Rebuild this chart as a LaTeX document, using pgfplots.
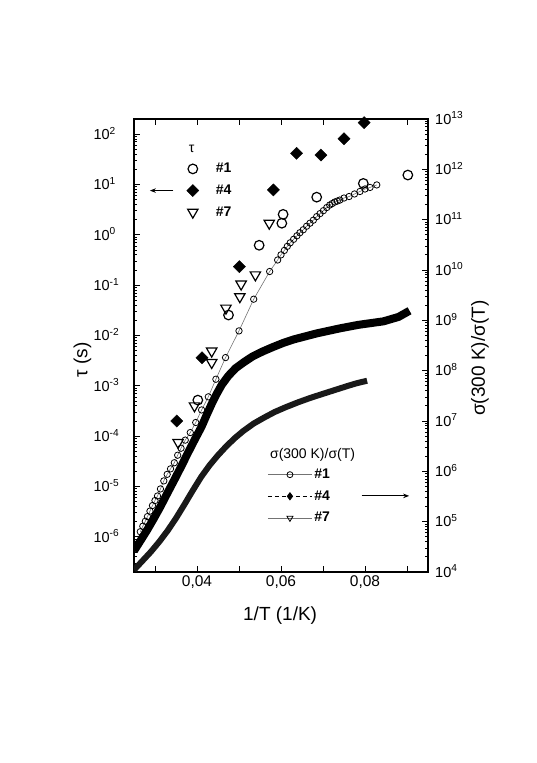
\documentclass[border=0pt]{standalone}
\usepackage{fontspec}
\setmainfont{Liberation Sans}
\usepackage{pgfplots}
\pgfplotsset{compat=1.18}
\usetikzlibrary{arrows.meta}

\newcommand\xtickfont{\fontsize{15.5}{18}\selectfont}
\newcommand\ytickfont{\fontsize{14.5}{17}\selectfont}
\newcommand\labfont{\fontsize{19}{23}\selectfont}
\newcommand\legfont{\fontsize{14}{17}\selectfont}

\pgfkeys{/pgf/number format/assume math mode=true}
\pgfplotsset{
  log number format basis/.code 2 args={#1\textsuperscript{\pgfmathprintnumber{#2}}},
  taumark/.style={only marks,
    legend image code/.code={\path[draw=none] (0pt,0pt) -- (42pt,0pt);
      \draw[##1] plot[only marks] coordinates {(21pt,0pt)};}},
}

\begin{document}
\begin{tikzpicture}
% tau (left axis)
\begin{axis}[
  at={(0,0)}, anchor=south west,
  scale only axis, width=294pt, height=453pt,
  xmin=0.025, xmax=0.095,
  ymode=log, log basis y=10,
  ymin=2e-7, ymax=2e2,
  tick align=inside,
  major tick length=6.5pt, minor tick length=3.5pt,
  axis line style={line width=1.3pt},
  every tick/.append style={black, line width=0.9pt},
  xticklabel style={font=\xtickfont},
  yticklabel style={font=\ytickfont, anchor=base west, xshift=-44pt, yshift=-5.2pt},
  scaled x ticks=false,
  xtick={0.03,0.04,0.05,0.06,0.07,0.08,0.09},
  xticklabels={,{0,04},,{0,06},,{0,08},},
  ytick pos=left,
  xlabel={1/T (1/K)},
  ylabel={τ (s)},
  every axis x label/.style={at={(axis description cs:0.497,-0.0965)},anchor=center,font=\labfont},
  every axis y label/.style={at={(axis description cs:-0.175,0.468)},anchor=center,rotate=90,font=\labfont},
  legend style={draw=none, fill=none, inner sep=0pt, font=\legfont\bfseries, row sep=6.5pt,
    at={(axis description cs:0.128,0.907)}, anchor=north west},
  legend cell align=left,
]
\addplot[taumark, mark=o, mark size=4.8pt, line width=1.2pt] coordinates {
  (0.0402,5.2e-4) (0.0475,0.0255) (0.0548,0.62) (0.0602,1.7) (0.0605,2.55)
  (0.0685,5.6) (0.0796,10.5) (0.0902,15.4)};
\addlegendentry{\#1}
\addplot[taumark, mark=square*, mark size=4.3pt, mark options={rotate=45}] coordinates {
  (0.0352,2.0e-4) (0.0412,3.6e-3) (0.0501,0.233) (0.0582,7.8) (0.0637,41.6)
  (0.0695,38.5) (0.0750,81) (0.0798,169)};
\addlegendentry{\#4}
\addplot[taumark, mark=triangle, mark size=6pt, line width=1.2pt, mark options={rotate=180}] coordinates {
  (0.0355,7.5e-5) (0.0394,4.0e-4) (0.0435,2.9e-3) (0.0435,4.9e-3) (0.0469,0.035)
  (0.0502,0.059) (0.0505,0.105) (0.0539,0.16) (0.0572,1.7)};
\addlegendentry{\#7}
\node[font=\legfont] at (axis description cs:0.196,0.935) {τ};
\draw[line width=0.9pt, -{Stealth[length=6pt,width=4.5pt]}] (axis description cs:0.134,0.842) -- (axis description cs:0.054,0.842);
\end{axis}

% sigma(300K)/sigma(T) (right axis)
\begin{axis}[
  at={(0,0)}, anchor=south west,
  scale only axis, width=294pt, height=453pt,
  xmin=0.025, xmax=0.095,
  ymode=log, log basis y=10,
  ymin=1e4, ymax=1e13,
  tick align=inside,
  major tick length=6.5pt, minor tick length=3.5pt,
  axis line style={line width=1.3pt},
  every tick/.append style={black, line width=0.9pt},
  hide x axis,
  ytick pos=right, yticklabel pos=right,
  yticklabel style={font=\ytickfont, anchor=base west, xshift=3.7pt, yshift=-5.2pt},
  ylabel={σ(300 K)/σ(T)},
  every axis y label/.style={at={(axis description cs:1.177,0.472)},anchor=center,rotate=90,font=\labfont},
  legend style={draw=none, fill=none, inner sep=0pt, font=\legfont\bfseries, row sep=6.5pt,
    at={(axis description cs:0.4534,0.232)}, anchor=north west},
  legend cell align=left,
  legend image code/.code={\draw[mark repeat=2,mark phase=2,#1] plot coordinates {(0pt,0pt) (22pt,0pt) (44pt,0pt)};},
]
% #4
\addplot[forget plot, black, line width=8pt, line join=round] coordinates {
  (0.0250,2.63e4) (0.0266,4.27e4) (0.0281,6.76e4) (0.0297,1.15e5) (0.0313,2.0e5)
  (0.0329,3.63e5) (0.0346,6.76e5) (0.0362,1.23e6) (0.0378,2.29e6) (0.0394,4.17e6)
  (0.0411,7.76e6) (0.0423,1.32e7) (0.0435,2.19e7) (0.0447,3.47e7) (0.0459,5.25e7)
  (0.0475,7.94e7) (0.0492,1.12e8) (0.0512,1.48e8) (0.0532,1.91e8) (0.0556,2.40e8)
  (0.0581,2.95e8) (0.0605,3.55e8) (0.0630,4.17e8) (0.0685,5.5e8) (0.0740,6.92e8)
  (0.0784,8.13e8) (0.0844,9.55e8) (0.0880,1.17e9) (0.0906,1.55e9)};
% #7
\addplot[forget plot, black!90, line width=6pt, line join=round] coordinates {
  (0.0250,1.1e4) (0.0270,1.66e4) (0.0290,2.51e4) (0.0310,3.98e4) (0.0330,6.61e4)
  (0.0350,1.17e5) (0.0370,2.19e5) (0.0390,4.17e5) (0.0410,7.76e5) (0.0430,1.32e6)
  (0.0450,2.09e6) (0.0470,3.16e6) (0.0490,4.57e6) (0.0510,6.31e6) (0.0535,8.91e6)
  (0.0560,1.17e7) (0.0585,1.51e7) (0.0610,1.86e7) (0.0640,2.34e7) (0.0670,2.88e7)
  (0.0700,3.47e7) (0.0730,4.17e7) (0.0760,5.01e7) (0.0780,5.62e7) (0.0805,6.31e7)};
% #1
\addplot[forget plot, black!55, line width=0.6pt, mark=o, mark size=3.2pt,
  mark options={black, line width=0.8pt, fill=white}] coordinates {
  (0.0265,6.31e4) (0.0271,8.13e4) (0.0277,1.02e5) (0.0282,1.26e5) (0.0288,1.62e5)
  (0.0294,2.09e5) (0.0300,2.63e5) (0.0306,3.24e5) (0.0313,4.47e5) (0.0321,6.46e5)
  (0.0329,8.71e5) (0.0337,1.12e6) (0.0346,1.48e6) (0.0354,2.09e6) (0.0362,2.88e6)
  (0.0372,4.17e6) (0.0384,5.89e6) (0.0397,9.33e6) (0.0411,1.66e7) (0.0427,3.02e7)
  (0.0445,6.76e7) (0.0468,1.82e8) (0.0500,6.17e8) (0.0535,2.63e9) (0.0573,9.33e9)
  (0.0592,1.58e10) (0.0600,2.0e10) (0.0608,2.45e10) (0.0615,2.95e10) (0.0622,3.47e10)
  (0.0630,4.07e10) (0.0638,4.79e10) (0.0645,5.5e10) (0.0653,6.31e10) (0.0661,7.41e10)
  (0.0669,8.51e10) (0.0677,9.77e10) (0.0685,1.15e11) (0.0693,1.32e11) (0.0701,1.51e11)
  (0.0709,1.74e11) (0.0716,1.95e11) (0.0722,2.09e11) (0.0728,2.24e11) (0.0734,2.34e11)
  (0.0740,2.45e11) (0.0750,2.69e11) (0.0762,2.88e11) (0.0775,3.24e11) (0.0788,3.63e11)
  (0.0800,4.07e11) (0.0812,4.37e11) (0.0828,4.9e11)};
\addlegendimage{black!55, line width=0.6pt, mark=o, mark size=3pt, mark options={black, line width=0.8pt, fill=white}}
\addlegendentry{\#1}
\addlegendimage{black, line width=0.9pt, dash pattern=on 4pt off 3pt, mark=diamond*, mark size=3.5pt, mark options={solid}}
\addlegendentry{\#4}
\addlegendimage{black!55, line width=0.6pt, mark=triangle, mark size=3.5pt, mark options={black, solid, rotate=180, line width=0.8pt}}
\addlegendentry{\#7}
\node[font=\legfont, anchor=west] at (axis description cs:0.451,0.258) {σ(300 K)/σ(T)};
\draw[line width=0.9pt, -{Stealth[length=6pt,width=4.5pt]}] (axis description cs:0.774,0.168) -- (axis description cs:0.936,0.168);
\end{axis}
\path (-134pt,-191pt) rectangle (402pt,572pt);
\end{tikzpicture}
\end{document}
